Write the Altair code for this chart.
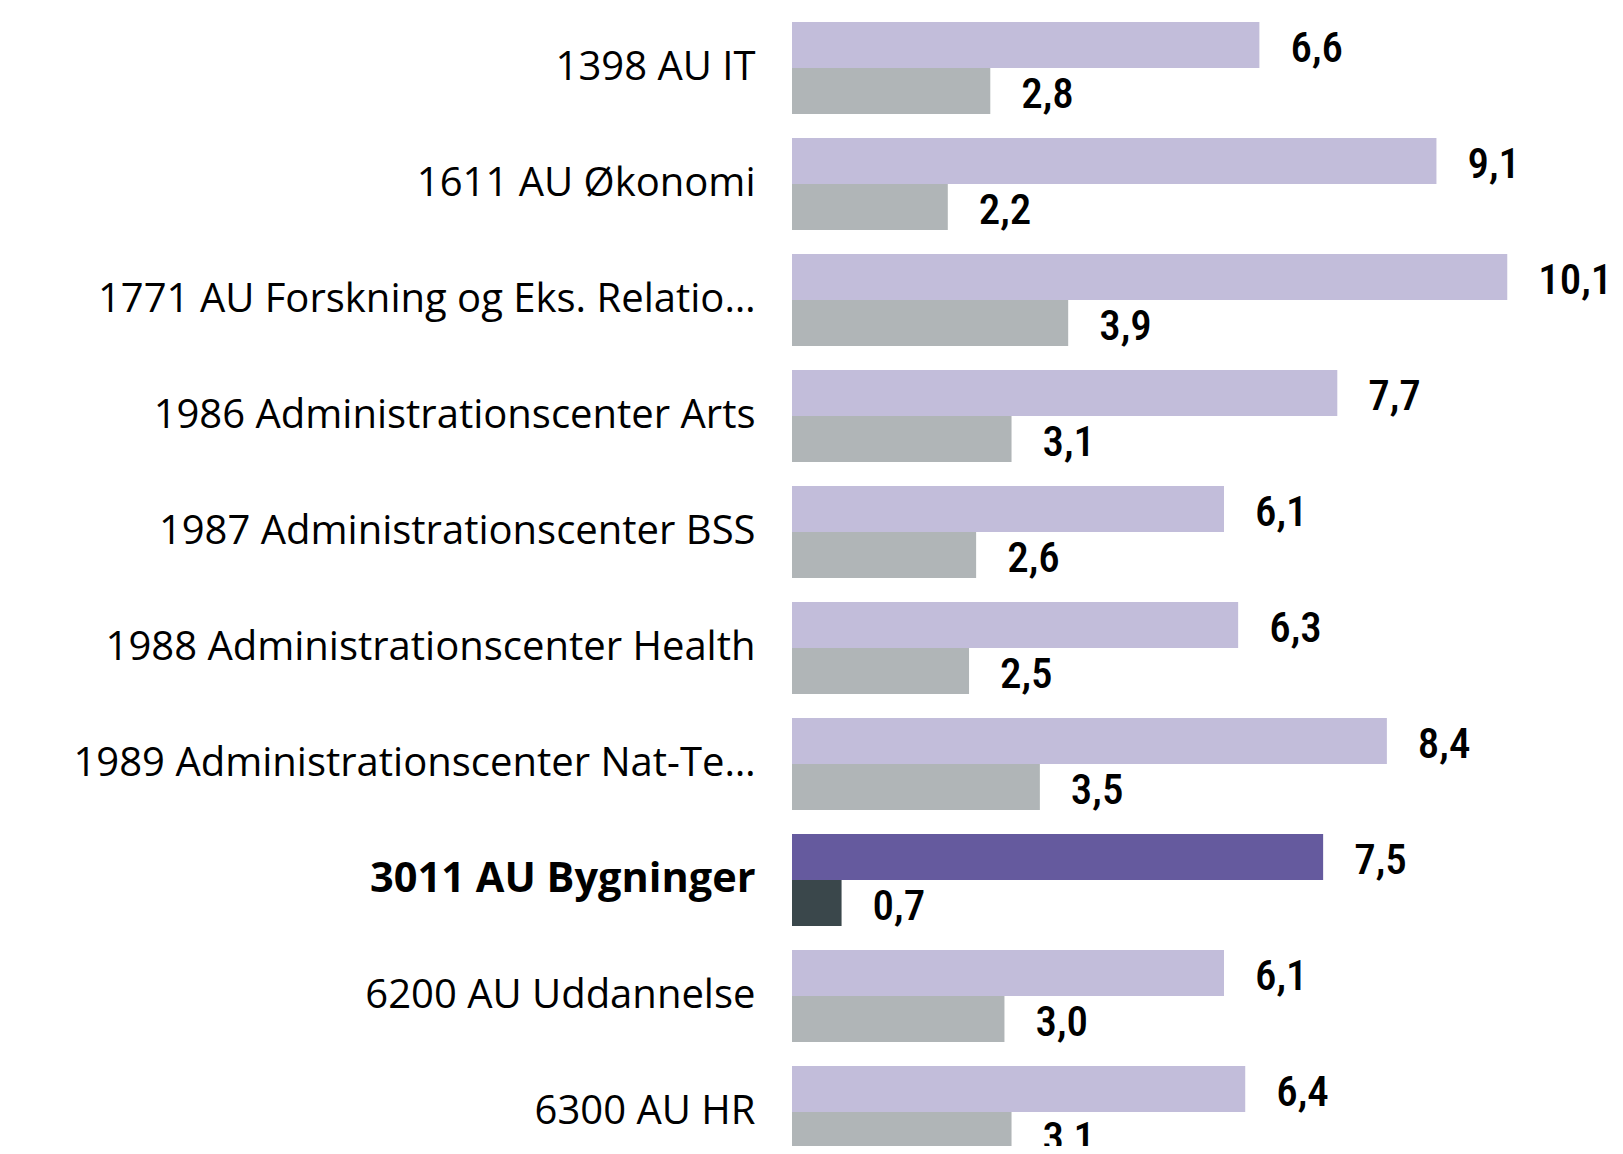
import altair as alt
import pandas as pd

categories = [
    "1398 AU IT",
    "1611 AU Økonomi",
    "1771 AU Forskning og Eks. Relatio…",
    "1986 Administrationscenter Arts",
    "1987 Administrationscenter BSS",
    "1988 Administrationscenter Health",
    "1989 Administrationscenter Nat-Te…",
    "3011 AU Bygninger",
    "6200 AU Uddannelse",
    "6300 AU HR",
]
series_a = [6.6, 9.1, 10.1, 7.7, 6.1, 6.3, 8.4, 7.5, 6.1, 6.4]
series_b = [2.8, 2.2, 3.9, 3.1, 2.6, 2.5, 3.5, 0.7, 3.0, 3.1]
highlight = "3011 AU Bygninger"

rows = []
for c, a, b in zip(categories, series_a, series_b):
    for s, v in (("A", a), ("B", b)):
        key = s + ("_hl" if c == highlight else "")
        rows.append({"cat": c, "series": s, "value": v,
                     "label": f"{v:.1f}".replace(".", ","), "key": key})
df = pd.DataFrame(rows)

color_scale = alt.Scale(domain=["A", "B", "A_hl", "B_hl"],
                        range=["#C2BDDA", "#B0B5B7", "#655A9E", "#3A474B"])

base = alt.Chart(df).encode(
    y=alt.Y("cat:N", sort=categories,
            scale=alt.Scale(paddingInner=0.207, paddingOuter=0.1035, range=[0, 1160]),
            axis=alt.Axis(title=None, domain=False, ticks=False, grid=False,
                          labelPadding=37, labelFont="Open Sans",
                          labelColor="black", labelLimit=1000,
                          labelFontSize=alt.condition(alt.datum.value == highlight,
                                                      alt.value(41.5), alt.value(40)),
                          labelFontWeight=alt.condition(alt.datum.value == highlight,
                                                        alt.value("bold"), alt.value("normal")))),
    yOffset=alt.YOffset("series:N", sort=["A", "B"],
                        scale=alt.Scale(paddingInner=0, paddingOuter=0)),
)

bars = base.mark_bar(cornerRadius=0).encode(
    x=alt.X("value:Q", scale=alt.Scale(domain=[0, 11], nice=False), axis=None),
    color=alt.Color("key:N", scale=color_scale, legend=None),
)

texts = base.mark_text(align="left", baseline="middle", dx=31, dy=4,
                       font="Roboto Condensed",
                       fontSize=43, fontWeight=500, color="black").encode(
    x=alt.X("value:Q", scale=alt.Scale(domain=[0, 11], nice=False), axis=None),
    text="label:N",
)

chart = alt.layer(bars, texts).properties(
    width=779, height=1128,
    autosize="none",
    padding={"left": 784, "top": 2, "right": 44, "bottom": 8},
).configure_view(stroke=None)

chart.save("out.html", embed_options={"renderer": "svg", "actions": False})
